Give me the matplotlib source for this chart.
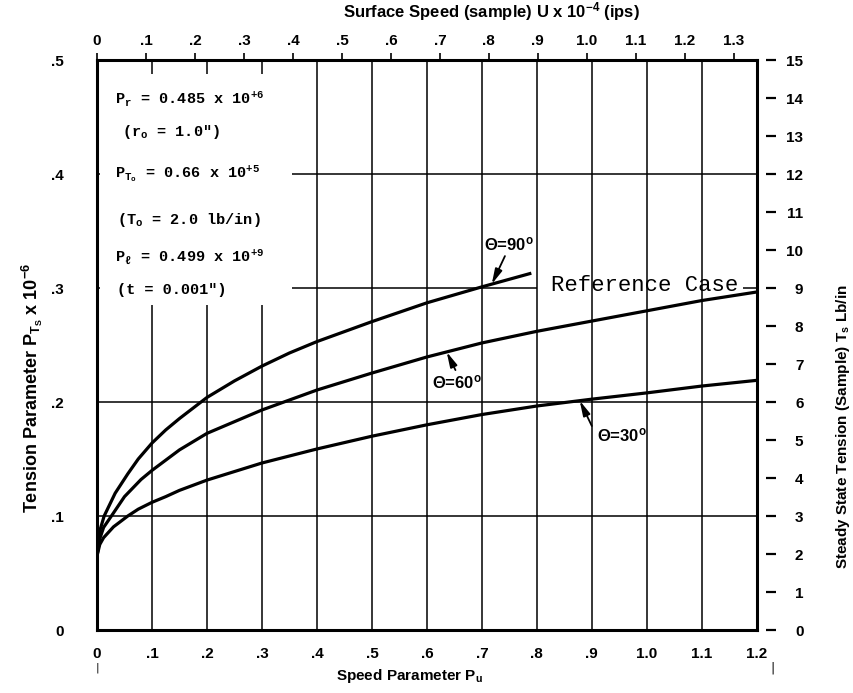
import numpy as np
import matplotlib
matplotlib.use("Agg")
from matplotlib import pyplot as plt
from matplotlib import font_manager as fm


def pick_font(names, default="DejaVu Sans"):
    for name in names:
        try:
            fm.findfont(name, fallback_to_default=False)
            return name
        except Exception:
            continue
    return default


SANS = pick_font(["Liberation Sans Narrow", "Liberation Sans"])
MONO = pick_font(["Liberation Mono", "DejaVu Sans Mono"], "DejaVu Sans Mono")

plt.rcParams["mathtext.default"] = "regular"

# ---- data ----
pu_90 = [0, 0.005, 0.013, 0.033, 0.056, 0.075, 0.1, 0.125, 0.15, 0.2, 0.25,
         0.3, 0.35, 0.4, 0.5, 0.6, 0.7, 0.79]
pt_90 = [0.065, 0.087, 0.100, 0.120, 0.137, 0.150, 0.164, 0.1755, 0.1855,
         0.204, 0.2185, 0.2315, 0.243, 0.2530, 0.2705, 0.287, 0.301, 0.313]

pu_60 = [0, 0.005, 0.012, 0.029, 0.05, 0.08, 0.1, 0.125, 0.15, 0.2, 0.3, 0.4,
         0.5, 0.6, 0.7, 0.8, 0.9, 1.0, 1.1, 1.2]
pt_60 = [0.065, 0.080, 0.090, 0.102, 0.117, 0.132, 0.140, 0.149, 0.158,
         0.1725, 0.193, 0.2105, 0.2254, 0.2395, 0.2518, 0.262, 0.271, 0.280,
         0.289, 0.2965]

pu_30 = [0, 0.005, 0.012, 0.03, 0.056, 0.075, 0.1, 0.125, 0.15, 0.2, 0.3,
         0.4, 0.5, 0.6, 0.7, 0.8, 0.9, 1.0, 1.1, 1.2]
pt_30 = [0.065, 0.075, 0.081, 0.0905, 0.1, 0.106, 0.112, 0.117, 0.1225,
         0.1315, 0.1465, 0.1588, 0.170, 0.180, 0.189, 0.1965, 0.2025, 0.208,
         0.214, 0.219]

pu_ticks = [0, 0.1, 0.2, 0.3, 0.4, 0.5, 0.6, 0.7, 0.8, 0.9, 1.0, 1.1, 1.2]
pu_labels = ["0", ".1", ".2", ".3", ".4", ".5", ".6", ".7", ".8", ".9", "1.0", "1.1", "1.2"]
pt_ticks = [0, 0.1, 0.2, 0.3, 0.4, 0.5]
pt_labels = ["0", ".1", ".2", ".3", ".4", ".5"]
u_ticks = [0, 0.1, 0.2, 0.3, 0.4, 0.5, 0.6, 0.7, 0.8, 0.9, 1.0, 1.1, 1.2, 1.3]
u_labels = ["0", ".1", ".2", ".3", ".4", ".5", ".6", ".7", ".8", ".9", "1.0", "1.1", "1.2", "1.3"]
ts_ticks = list(range(0, 16))

U_PER_PU = 1.1225      # surface speed scale vs speed parameter
TS_PER_PT = 30.0       # lb/in per unit of tension parameter

fig = plt.figure(figsize=(8.54, 6.93), dpi=100)
ax = fig.add_axes([0.1136, 0.0909, 0.7725, 0.8225])
ax.set_xlim(0, 1.2)
ax.set_ylim(0, 0.5)

# grid (0.3 line is broken where the "Reference Case" note sits)
for x in pu_ticks[1:-1]:
    ax.axvline(x, color="black", lw=1.1, zorder=1)
for y in [0.1, 0.2, 0.4]:
    ax.axhline(y, color="black", lw=1.1, zorder=1)
ax.hlines(0.3, 0, 0.80, color="black", lw=1.1, zorder=1)
ax.hlines(0.3, 1.175, 1.2, color="black", lw=1.1, zorder=1)

# curves
for xs, ys in [(pu_90, pt_90), (pu_60, pt_60), (pu_30, pt_30)]:
    ax.plot(xs, ys, color="black", lw=2.3, zorder=3, solid_capstyle="butt",
            solid_joinstyle="round")

# white box blanking the grid behind the parameter notes
ax.add_patch(plt.Rectangle((0.006, 0.285), 0.349, 0.203, facecolor="white",
                           edgecolor="none", zorder=2))

notes = [
    (0.032, 0.466, "P$_r$ = 0.485 x 10$^{+6}$"),
    (0.045, 0.437, "(r$_o$ = 1.0\")"),
    (0.032, 0.400, "P$_{T_o}$ = 0.66 x 10$^{+5}$"),
    (0.036, 0.360, "(T$_o$ = 2.0 lb/in)"),
    (0.032, 0.327, "P$_\\ell$ = 0.499 x 10$^{+9}$"),
    (0.036, 0.298, "(t = 0.001\")"),
]
for x, y, s in notes:
    ax.text(x, y, s, family=MONO, fontsize=11, fontweight="bold", va="center",
            ha="left", zorder=4)

ax.text(0.825, 0.3025, "Reference Case", family=MONO, fontsize=16,
        va="center", ha="left", zorder=4)

# curve labels with arrows
arrow = dict(arrowstyle="-|>,head_length=0.9,head_width=0.22", color="black",
             lw=1.3, shrinkA=0, shrinkB=0)
labels = [
    ("\u0398=90$^{o}$", (0.749, 0.338), (0.742, 0.328), 0.718, pu_90, pt_90),
    ("\u0398=60$^{o}$", (0.655, 0.217), (0.652, 0.228), 0.636, pu_60, pt_60),
    ("\u0398=30$^{o}$", (0.955, 0.171), (0.900, 0.179), 0.878, pu_30, pt_30),
]
for s, tpos, tail, xp, xs, ys in labels:
    ax.text(tpos[0], tpos[1], s, family=SANS, fontsize=12, fontweight="bold",
            ha="center", va="center", zorder=4)
    ax.annotate("", xy=(xp, np.interp(xp, xs, ys)), xytext=tail,
                arrowprops=arrow, zorder=4)

# main axes styling
for side in ["left", "bottom", "right", "top"]:
    ax.spines[side].set_linewidth(2.2)
ax.set_xticks(pu_ticks)
ax.set_xticklabels(pu_labels, family=SANS, fontsize=11, fontweight="bold")
ax.set_yticks(pt_ticks)
ax.set_yticklabels(pt_labels, family=SANS, fontsize=11, fontweight="bold")
ax.tick_params(axis="x", length=0, pad=12)
ax.tick_params(axis="y", length=0, pad=24)

# top axis: surface speed
top = ax.secondary_xaxis("top", functions=(lambda p: p * U_PER_PU,
                                           lambda u: u / U_PER_PU))
top.set_xticks(u_ticks)
top.set_xticklabels(u_labels, family=SANS, fontsize=11, fontweight="bold")
top.tick_params(axis="x", direction="out", length=5, width=1.2, pad=4)
top.spines["top"].set_visible(False)

# right axis: steady state tension
right = ax.secondary_yaxis(1.014, functions=(lambda p: p * TS_PER_PT,
                                             lambda t: t / TS_PER_PT))
right.set_yticks(ts_ticks)
right.set_yticklabels([str(t) for t in ts_ticks], family=SANS, fontsize=11,
                      fontweight="bold")
right.tick_params(axis="y", direction="out", length=7, width=1.6)
right.spines["right"].set_visible(False)
for lab in right.get_yticklabels():
    lab.set_horizontalalignment("right")
right.tick_params(axis="y", pad=20)

# axis titles
fig.text(0.576, 0.983, "Surface Speed (sample) U x 10$^{-4}$ (ips)", family=SANS,
         fontsize=12, fontweight="bold", ha="center", va="center")
fig.text(0.48, 0.024, "Speed Parameter P$_u$", family=SANS, fontsize=11,
         fontweight="bold", ha="center", va="center")
fig.text(0.038, 0.44, "Tension Parameter P$_{T_S}$ x 10$^{-6}$", family=SANS,
         fontsize=13, fontweight="bold", rotation=90, ha="center", va="center")
fig.text(0.987, 0.385, "Steady State Tension (Sample) T$_s$ Lb/in", family=SANS,
         fontsize=11, fontweight="bold", rotation=90, ha="center", va="center")
fig.text(0.1136, 0.036, "|", fontsize=8, ha="center", va="center")
fig.text(0.905, 0.036, "|", fontsize=9, ha="center", va="center")

fig.savefig("out.png", dpi=100)
